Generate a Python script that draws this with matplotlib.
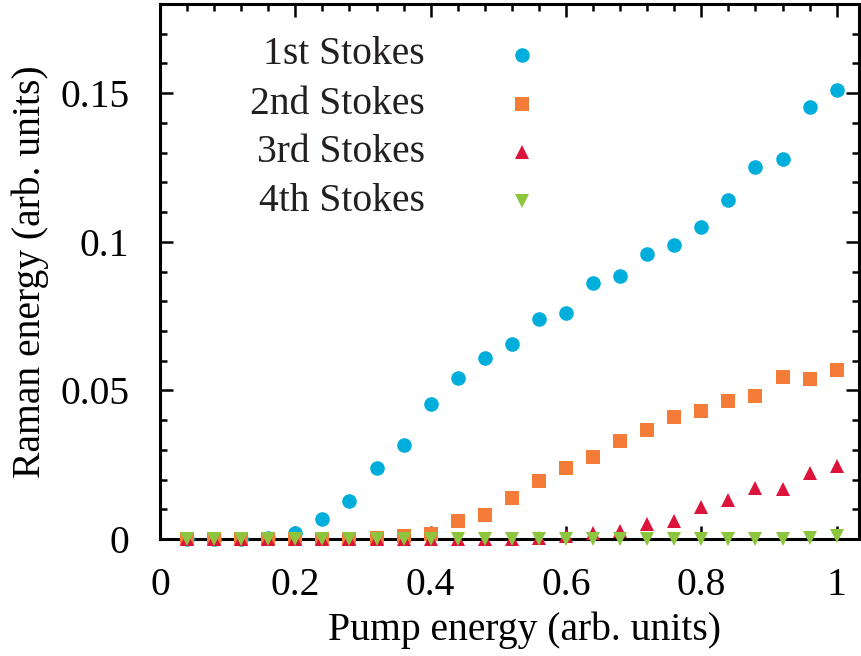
import matplotlib
matplotlib.use("Agg")
import matplotlib.pyplot as plt
import numpy as np
from matplotlib.ticker import MultipleLocator

plt.rcParams['font.family'] = ['Liberation Serif', 'DejaVu Serif']
plt.rcParams['mathtext.fontset'] = 'stix'

# pump energy (arb. units)
pump = [0.04, 0.08, 0.12, 0.16, 0.20, 0.24, 0.28, 0.32, 0.36, 0.40,
        0.44, 0.48, 0.52, 0.56, 0.60, 0.64, 0.68, 0.72, 0.76, 0.80,
        0.84, 0.88, 0.92, 0.96, 1.00]

stokes1 = [0.0, 0.0, 0.0, 0.0005, 0.002, 0.0067, 0.0128, 0.0240, 0.0316, 0.0454,
           0.0541, 0.0608, 0.0655, 0.0740, 0.0760, 0.0861, 0.0884, 0.0958, 0.0990, 0.1050,
           0.1142, 0.1250, 0.1280, 0.1452, 0.1510]
stokes2 = [0.0, 0.0, 0.0, 0.0, 0.0, 0.0, 0.0, 0.0005, 0.0010, 0.0017,
           0.0060, 0.0080, 0.0138, 0.0195, 0.0240, 0.0277, 0.0329, 0.0366, 0.0411, 0.0430,
           0.0464, 0.0482, 0.0544, 0.0538, 0.0568]
stokes3 = [0.0, 0.0, 0.0, 0.0, 0.0, 0.0, 0.0, 0.0, 0.0, 0.0,
           0.0, 0.0, 0.0, 0.0005, 0.0010, 0.0019, 0.0027, 0.0050, 0.0062, 0.0109,
           0.0131, 0.0170, 0.0167, 0.0221, 0.0246]
stokes4 = [0.0, 0.0, 0.0, 0.0, 0.0, 0.0, 0.0, 0.0, 0.0, 0.0,
           0.0, 0.0, 0.0, 0.0, 0.0, 0.0, 0.0, 0.0, 0.0, 0.0,
           0.0, 0.0, 0.0, 0.0004, 0.0009]

labels = ['1st Stokes', '2nd Stokes', '3rd Stokes', '4th Stokes']
series = [stokes1, stokes2, stokes3, stokes4]
colors = ['#00AEDB', '#F47B38', '#DC143C', '#8CC63F']
markers = ['o', 's', '^', 'v']
sizes = [10.5, 10.0, 10.0, 10.0]

fig = plt.figure(figsize=(8.61, 6.56), dpi=100)
ax = fig.add_axes([160 / 861, 1 - 539 / 656, 699 / 861, 535 / 656])

for ys, c, m, s in zip(series, colors, markers, sizes):
    ax.plot(pump, ys, linestyle='none', marker=m, color=c, markersize=s,
            markeredgewidth=0, clip_on=False, zorder=3)

ax.set_xlim(0, 1.033)
ax.set_ylim(0, 0.18)

ax.xaxis.set_major_locator(MultipleLocator(0.2))
ax.xaxis.set_minor_locator(MultipleLocator(0.04))
ax.yaxis.set_major_locator(MultipleLocator(0.05))
ax.yaxis.set_minor_locator(MultipleLocator(0.01))
ax.set_xticks([0, 0.2, 0.4, 0.6, 0.8, 1.0])
ax.set_xticklabels(['0', '0.2', '0.4', '0.6', '0.8', '1'])
ax.set_yticks([0, 0.05, 0.1, 0.15])
ax.set_yticklabels(['0', '0.05', '0.1', '0.15'])

ax.tick_params(which='both', direction='in', top=True, right=True,
               labelsize=28.5, width=1.8, color='black')
ax.tick_params(which='major', length=9.5)
ax.tick_params(which='minor', length=5)
ax.tick_params(axis='x', which='major', pad=20)
ax.tick_params(axis='y', which='major', pad=22)

for sp in ax.spines.values():
    sp.set_linewidth(2.2)

ax.set_xlabel('Pump energy (arb. units)', fontsize=28.5)
ax.xaxis.set_label_coords(0.522, -0.17)
ax.xaxis.label.set_verticalalignment('center')
ax.set_ylabel('Raman energy (arb. units)', fontsize=28.5)
ax.yaxis.set_label_coords(-0.186, 0.5)
ax.yaxis.label.set_verticalalignment('center')

# key: right-aligned text with the marker to its right
row_y = [0.905, 0.813, 0.723, 0.632]
for lab, c, m, s, y in zip(labels, colors, markers, sizes, row_y):
    ax.text(0.379, y - 0.018, lab, transform=ax.transAxes, ha='right',
            va='baseline', fontsize=28.5, color='#231F20')
    ax.plot([0.518], [y], transform=ax.transAxes, linestyle='none', marker=m,
            color=c, markersize=s, markeredgewidth=0, clip_on=False)

fig.savefig('out.png', dpi=100)
